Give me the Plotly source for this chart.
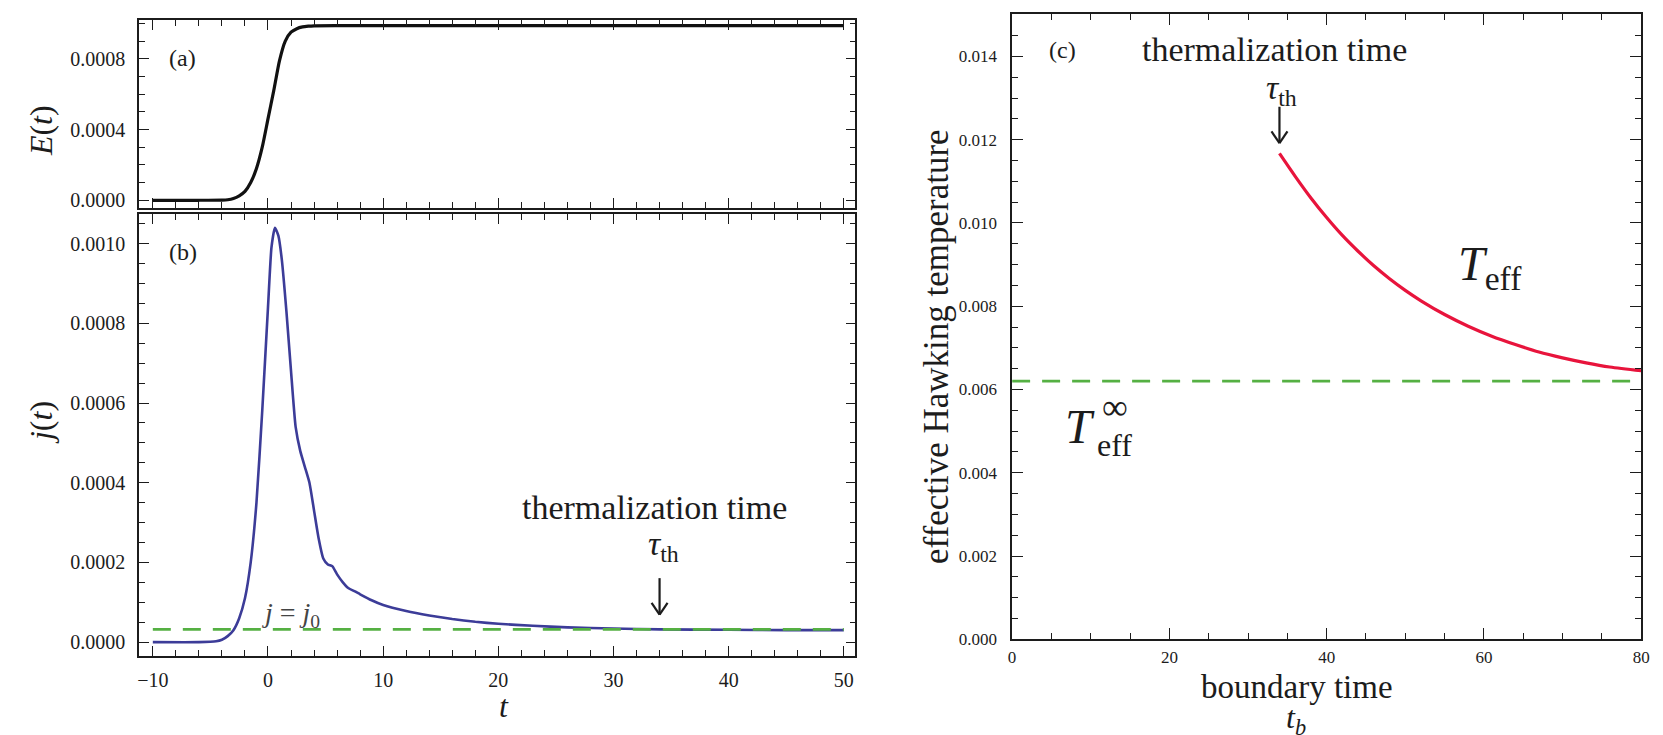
import plotly.graph_objects as go

# ---------------- data ----------------
t_E = [-10, -6, -4, -3.5, -3, -2.5, -2, -1.5, -1, -0.5, 0, 0.5, 1, 1.5, 2, 2.5, 3, 3.5, 4, 6, 10, 20, 30, 40, 50]
E_vals = [0, 0, 0.000001, 0.000003, 0.00001, 0.000025, 0.00005, 0.0001, 0.00018, 0.0003, 0.00046,
          0.00062, 0.00079, 0.0009, 0.00095, 0.00097, 0.00098, 0.000984, 0.000986, 0.000987,
          0.000987, 0.000987, 0.000987, 0.000987, 0.000987]

t_j = [-10, -6, -4.5, -4, -3.5, -3, -2.5, -2, -1.5, -1, -0.5, 0, 0.3, 0.6, 0.9, 1.2, 1.6, 2, 2.4,
       2.8, 3.2, 3.6, 4, 4.4, 4.8, 5.2, 5.6, 6, 6.5, 7, 7.5, 8, 9, 10, 12, 14, 16, 18, 20, 23, 26,
       30, 34, 40, 45, 50]
j_vals = [0, 0, 0.000002, 0.000006, 0.000015, 0.00003, 0.00006, 0.00011, 0.0002, 0.00035, 0.00058,
          0.00084, 0.00099, 0.00104, 0.00102, 0.00096, 0.00083, 0.00068, 0.00054, 0.00048, 0.00044,
          0.0004, 0.00033, 0.00026, 0.00021, 0.000195, 0.00019, 0.00017, 0.00015, 0.000135, 0.000128,
          0.00012, 0.000105, 0.000093, 0.000078, 0.000067, 0.000058, 0.000051, 0.000046, 0.000041,
          0.000037, 0.000034, 0.000032, 0.000031, 0.00003, 0.00003]
j0_t = [-10, 50]
j0_vals = [0.000032, 0.000032]

tb = [34, 36, 38, 40, 42, 44, 46, 48, 50, 52, 55, 58, 61, 64, 67, 70, 73, 76, 80]
T_eff = [0.01167, 0.01112, 0.01060, 0.01013, 0.00970, 0.00932, 0.00897, 0.00866, 0.00838, 0.00813,
         0.00780, 0.00752, 0.00728, 0.00708, 0.00690, 0.00676, 0.00664, 0.00654, 0.00645]
Tinf_t = [0, 80]
Tinf_vals = [0.0062, 0.0062]

tau_th = 34

# ---------------- layout helpers ----------------
W, H = 1663, 735
def fx(x): return x / W
def fy(y): return 1 - y / H

SERIF = "Liberation Serif"
INK = "#1c1c1c"

fig = go.Figure()

fig.add_trace(go.Scatter(x=t_E, y=E_vals, xaxis="x", yaxis="y", mode="lines",
                         line=dict(color="#111111", width=3.2, shape="spline", smoothing=0.6)))
fig.add_trace(go.Scatter(x=t_j, y=j_vals, xaxis="x2", yaxis="y2", mode="lines",
                         line=dict(color="#3c3c98", width=2.6, shape="spline", smoothing=0.5)))
fig.add_trace(go.Scatter(x=j0_t, y=j0_vals, xaxis="x2", yaxis="y2", mode="lines",
                         line=dict(color="#55b043", width=2.6, dash="18px,12px")))
fig.add_trace(go.Scatter(x=Tinf_t, y=Tinf_vals, xaxis="x3", yaxis="y3", mode="lines",
                         line=dict(color="#55b043", width=2.6, dash="18px,12px")))
fig.add_trace(go.Scatter(x=tb, y=T_eff, xaxis="x3", yaxis="y3", mode="lines",
                         line=dict(color="#e8143c", width=3.2, shape="spline", smoothing=0.8)))

def axis_common(major_len, minor_dtick, font_size, **kw):
    d = dict(showline=True, linecolor=INK, linewidth=1.6, mirror="allticks",
             ticks="inside", ticklen=major_len, tickwidth=1.3, tickcolor=INK,
             showgrid=False, zeroline=False,
             tickfont=dict(family=SERIF, size=font_size, color=INK),
             minor=dict(dtick=minor_dtick, tick0=0, ticks="inside", ticklen=6,
                        tickcolor=INK, tickwidth=1.2, showgrid=False))
    d.update(kw)
    return d

xa = axis_common(10, 2, 20, domain=[fx(128), fx(850)], anchor="y", range=[-11.2, 51.0],
                 dtick=10, tick0=0, showticklabels=False)
ya = axis_common(10, 0.0001, 20, domain=[fy(203), fy(12)], anchor="x", range=[-0.000045, 0.00102],
                 dtick=0.0004, tick0=0, tickformat=".4f", ticklabelstandoff=8)
xb = axis_common(10, 2, 20, domain=[fx(128), fx(850)], anchor="y2", range=[-11.2, 51.0],
                 dtick=10, tick0=0, ticklabelstandoff=5)
yb = axis_common(10, 0.00005, 20, domain=[fy(657), fy(209)], anchor="x2", range=[-0.000035, 0.001074],
                 dtick=0.0002, tick0=0, tickformat=".4f", ticklabelstandoff=8)
xc = axis_common(11, 5, 17, domain=[fx(1008), fx(1642)], anchor="y3", range=[0, 80],
                 dtick=20, tick0=0, ticklabelstandoff=2)
yc = axis_common(11, 0.0005, 17, domain=[fy(640), fy(6)], anchor="x3", range=[0, 0.01502],
                 dtick=0.002, tick0=0, tickformat=".3f", ticklabelstandoff=10)

fig.update_layout(
    width=W, height=H, margin=dict(l=0, r=0, t=0, b=0),
    paper_bgcolor="white", plot_bgcolor="white", showlegend=False,
    font=dict(family=SERIF, size=20, color=INK),
    xaxis=xa, yaxis=ya, xaxis2=xb, yaxis2=yb, xaxis3=xc, yaxis3=yc,
)

def ann(text, x, y, size, ref="paper", xref=None, yref=None, angle=0, color=INK, family=SERIF):
    d = dict(text=text, showarrow=False, textangle=angle,
             font=dict(family=family, size=size, color=color),
             xanchor="center", yanchor="middle", borderpad=0)
    if ref == "paper":
        d.update(x=fx(x), y=fy(y), xref="paper", yref="paper")
    else:
        d.update(x=x, y=y, xref=xref, yref=yref)
    fig.add_annotation(**d)

def down_arrow(xref, xval, y_top, y_tip):
    # shaft + chevron head, anchored at data x, pixel y
    common = dict(type="line", xref=xref, yref="paper", xsizemode="pixel", xanchor=xval,
                  line=dict(color=INK, width=2.2))
    fig.add_shape(x0=0, x1=0, y0=fy(y_top), y1=fy(y_tip), **common)
    fig.add_shape(x0=-8, x1=0, y0=fy(y_tip - 12), y1=fy(y_tip), **common)
    fig.add_shape(x0=8, x1=0, y0=fy(y_tip - 12), y1=fy(y_tip), **common)

# axis titles
ann("<i>E</i>(<i>t</i>)", 30, 124, 32, angle=-90)
ann("<i>j</i>(<i>t</i>)", 30, 420, 32, angle=-90)
ann("<i>t</i>", 496, 708, 32)
ann("effective Hawking temperature", 932, 343, 35, angle=-90)
ann("boundary time", 1295, 688, 33)
ann("<i>t</i><sub><i>b</i></sub>", 1294, 721, 32)

# panel labels
ann("(a)", 172, 51, 24)
ann("(b)", 172, 247, 24)
ann("(c)", 1059, 43, 24)

# panel (b) annotations
ann("thermalization time", 648, 506, 34)
ann("<i>τ</i><sub>th</sub>", tau_th + 0.3, 0.000240, 34, ref="data", xref="x2", yref="y2")
down_arrow("x2", tau_th, 578, 615)
ann("<i>j</i> = <i>j</i><sub>0</sub>", 2.0, 0.00007, 28, ref="data", xref="x2", yref="y2", color="#444444")

# panel (c) annotations
ann("thermalization time", 1272, 42, 34)
ann("<i>τ</i><sub>th</sub>", tau_th + 0.3, 0.0132, 34, ref="data", xref="x3", yref="y3")
down_arrow("x3", tau_th, 100, 137)
ann("<i>T</i><sub>eff</sub>", 1490, 263, 48)
# T_eff^inf built from three pieces (T, subscript eff, superscript infinity)
ann("<i>T</i>", 1076, 424, 48)
ann("eff", 1111, 443, 32)
ann("∞", 1112, 405, 36)

fig.write_html("out.html")
